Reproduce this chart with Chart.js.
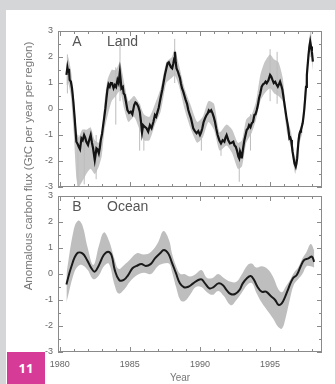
<!DOCTYPE html>
<html>
<head>
<meta charset="utf-8">
<script src="https://cdn.jsdelivr.net/npm/chart.js@4.4.1/dist/chart.umd.min.js"></script>
<style>
  html, body { margin: 0; padding: 0; }
  body { width: 335px; height: 384px; background: #d5d6d8; position: relative; overflow: hidden;
         font-family: 'Liberation Sans', Arial, sans-serif; }
  #sheet { position: absolute; left: 6px; top: 10px; right: 0; bottom: 0; background: #fff; }
  canvas { position: absolute; left: 0; }
  #landChart { top: 0; }
  #oceanChart { top: 185px; }
  #ytitle { position: absolute; left: -102px; top: 159px; width: 260px; line-height: 14px;
            text-align: center; font-size: 11.5px; color: #777; transform: rotate(-90deg); white-space: nowrap; }
  #xtitle { position: absolute; left: 160px; width: 40px; top: 371px; line-height: 14px; text-align: center;
            font-size: 10px; color: #777; }
  #badge { position: absolute; left: 7px; top: 352px; width: 38px; height: 32px; background: #d63b98;
           color: #fff; font: bold 13px 'Open Sans', 'Liberation Sans', sans-serif; text-align: center; line-height: 32px; }
</style>
</head>
<body>
<div id="sheet"></div>
<canvas id="landChart" width="335" height="198"></canvas>
<canvas id="oceanChart" width="335" height="199"></canvas>
<div id="ytitle">Anomalous carbon flux (GtC per year per region)</div>
<div id="xtitle">Year</div>
<div id="badge">11</div>
<script>
// ---------- data ----------
const X_MIN = 1979.88, X_MAX = 1998.7;
const Y_TICKS = [-3, -2, -1, 0, 1, 2, 3];
const YEAR_LABELS = [1980, 1985, 1990, 1995];

// land flux, black line
const landYears = [
  1980.48, 1980.55, 1980.6, 1980.66, 1980.71, 1980.8, 1980.88, 1980.97, 1981.07, 1981.19,
  1981.28, 1981.36, 1981.45, 1981.55, 1981.64, 1981.74, 1981.82, 1981.9, 1982.02, 1982.1,
  1982.21, 1982.3, 1982.38, 1982.5, 1982.56, 1982.62, 1982.7, 1982.79, 1982.86, 1982.93,
  1983.02, 1983.1, 1983.18, 1983.26, 1983.33, 1983.4, 1983.48, 1983.57, 1983.65, 1983.74,
  1983.84, 1983.93, 1984.02, 1984.12, 1984.2, 1984.29, 1984.35, 1984.4, 1984.5, 1984.56,
  1984.64, 1984.72, 1984.83, 1984.95, 1985.07, 1985.18, 1985.31, 1985.4, 1985.48, 1985.6,
  1985.71, 1985.8, 1985.87, 1985.95, 1986.05, 1986.19, 1986.31, 1986.43, 1986.55, 1986.68,
  1986.79, 1986.88, 1986.98, 1987.06, 1987.14, 1987.22, 1987.31, 1987.4, 1987.5, 1987.6,
  1987.69, 1987.78, 1987.86, 1987.94, 1988.02, 1988.1, 1988.17, 1988.22, 1988.27, 1988.33,
  1988.42, 1988.5, 1988.57, 1988.64, 1988.72, 1988.81, 1988.9, 1988.98, 1989.08, 1989.17,
  1989.26, 1989.36, 1989.44, 1989.52, 1989.64, 1989.76, 1989.88, 1990.0, 1990.08, 1990.17,
  1990.26, 1990.36, 1990.45, 1990.55, 1990.63, 1990.71, 1990.8, 1990.9, 1990.98, 1991.07,
  1991.16, 1991.26, 1991.38, 1991.5, 1991.62, 1991.74, 1991.82, 1991.9, 1992.02, 1992.14,
  1992.26, 1992.38, 1992.46, 1992.55, 1992.64, 1992.74, 1992.8, 1992.86, 1992.93, 1992.98,
  1993.08, 1993.17, 1993.25, 1993.33, 1993.42, 1993.5, 1993.6, 1993.69, 1993.78, 1993.88,
  1993.96, 1994.05, 1994.13, 1994.21, 1994.3, 1994.4, 1994.5, 1994.6, 1994.68, 1994.76,
  1994.88, 1995.0, 1995.08, 1995.17, 1995.26, 1995.36, 1995.45, 1995.55, 1995.63, 1995.71,
  1995.8, 1995.88, 1995.97, 1996.07, 1996.16, 1996.26, 1996.33, 1996.38, 1996.44, 1996.5,
  1996.55, 1996.6, 1996.68, 1996.74, 1996.83, 1996.88, 1996.93, 1997.02, 1997.08, 1997.14,
  1997.2, 1997.26, 1997.32, 1997.38, 1997.44, 1997.5, 1997.56, 1997.62, 1997.68, 1997.74,
  1997.8, 1997.86, 1997.92, 1997.98, 1998.05
];
const landFlux = [
  1.31, 1.6, 1.44, 1.55, 1.12, 1.05, 0.79, 0.3, -0.36, -1.26,
  -1.35, -1.45, -1.55, -1.13, -1.2, -1.0, -1.1, -1.26, -1.38, -1.2,
  -1.0, -1.3, -1.51, -1.96, -1.75, -1.51, -1.55, -1.7, -1.5, -1.19,
  -0.95, -0.62, -0.3, 0.03, 0.4, 0.73, 0.95, 0.86, 1.0, 0.99,
  0.8, 0.92, 0.85, 1.12, 1.0, 1.43, 1.1, 0.79, 0.85, 0.6,
  0.54, 0.3, -0.04, -0.15, -0.1, -0.2, 0.15, 0.25, 0.22, 0.1,
  -0.1, -0.5, -0.9, -0.62, -0.68, -0.74, -0.87, -0.62, -0.74, -0.5,
  -0.23, -0.3, -0.1, 0.05, 0.28, 0.5, 0.73, 1.0, 1.31, 1.55,
  1.76, 1.8, 1.69, 1.6, 1.56, 1.75, 1.95, 2.2, 1.8, 1.56,
  1.45, 1.31, 1.2, 0.99, 0.8, 0.67, 0.5, 0.35, 0.2, -0.04,
  -0.2, -0.36, -0.55, -0.74, -0.85, -0.93, -0.85, -1.0, -0.9, -0.74,
  -0.5, -0.36, -0.25, -0.17, -0.05, -0.1, -0.05, -0.17, -0.3, -0.49,
  -0.75, -1.0, -1.2, -1.32, -1.2, -1.26, -1.1, -1.0, -1.2, -1.32,
  -1.3, -1.26, -1.4, -1.45, -1.6, -1.83, -1.9, -1.64, -1.75, -1.9,
  -1.5, -1.19, -1.0, -0.81, -0.75, -0.62, -0.7, -0.55, -0.5, -0.23,
  -0.2, -0.04, 0.15, 0.41, 0.6, 0.86, 0.95, 0.99, 1.05, 0.99,
  1.1, 1.31, 1.25, 1.12, 1.0, 1.05, 0.95, 0.86, 0.95, 1.05,
  0.9, 0.73, 0.4, 0.03, -0.3, -0.62, -0.9, -1.13, -1.1, -1.19,
  -1.4, -1.64, -1.9, -2.09, -2.22, -2.1, -1.9, -1.26, -1.0, -0.87,
  -0.8, -0.68, -0.55, -0.3, 0.0, 0.41, 0.85, 1.31, 1.7, 2.08,
  2.4, 2.59, 2.4, 2.2, 1.82
];

// land uncertainty envelope
const landBandYears = [
  1980.48, 1980.6, 1980.8, 1981.0, 1981.2, 1981.35, 1981.6, 1981.9, 1982.2, 1982.5,
  1982.8, 1983.0, 1983.2, 1983.4, 1983.7, 1984.0, 1984.3, 1984.6, 1984.9, 1985.3,
  1985.7, 1986.0, 1986.4, 1986.8, 1987.2, 1987.6, 1988.0, 1988.2, 1988.5, 1988.9,
  1989.3, 1989.8, 1990.2, 1990.6, 1991.0, 1991.4, 1991.9, 1992.3, 1992.7, 1993.0,
  1993.3, 1993.7, 1994.0, 1994.3, 1994.6, 1995.0, 1995.3, 1995.6, 1995.9, 1996.2,
  1996.5, 1996.8, 1997.0, 1997.3, 1997.6, 1997.85, 1998.05
];
const landBandHigh = [
  1.7, 2.0, 1.5, 0.5, -0.8, -1.1, -0.8, -0.8, -0.7, -1.2,
  -1.3, -0.9, 0.3, 1.1, 1.5, 1.5, 1.8, 1.0, 0.3, 0.5,
  0.2, -0.2, -0.3, 0.2, 0.8, 1.8, 2.0, 2.3, 1.7, 0.8,
  0.2, -0.5, -0.3, 0.3, 0.2, -0.9, -0.6, -0.8, -1.3, -1.2,
  -0.4, -0.2, 0.3, 1.3, 1.8, 2.1, 1.9, 1.8, 1.2, -0.3,
  -0.9, -1.9, -1.0, -0.4, 1.5, 2.9, 2.1
];
const landBandLow = [
  0.9, 1.0, 0.5, -0.9, -2.7, -3.0, -2.8, -2.5, -2.3, -2.5,
  -2.2, -1.8, -0.8, -0.3, 0.3, 0.5, 0.7, 0.0, -0.5, -0.3,
  -0.8, -1.2, -1.2, -0.6, -0.1, 1.0, 1.2, 1.3, 0.9, 0.0,
  -0.7, -1.3, -1.1, -0.5, -0.8, -1.6, -1.4, -1.7, -2.3, -2.2,
  -1.3, -0.9, -0.4, 0.3, 0.6, 0.8, 0.6, 0.5, 0.3, -0.9,
  -1.5, -2.5, -1.5, -0.9, 1.0, 2.3, 1.5
];

// short-lived excursions of the land envelope
const landSpikeYears = [1980.55, 1981.3, 1981.75, 1982.6, 1984.0, 1984.3, 1985.7, 1986.0, 1988.2, 1990.1, 1991.5, 1992.8, 1993.6, 1995.0, 1995.5, 1997.9];
const landSpikeLow   = [0.6, -3.2, -2.9, -2.7, -0.6, 0.3, -1.6, -1.6, 1.0, -1.6, -1.8, -2.8, -1.6, 0.3, 0.2, 2.0];
const landSpikeHigh  = [2.1, -1.0, -0.8, -1.0, 1.6, 2.5, 0.2, -0.3, 2.7, -0.5, -0.9, -1.4, -0.2, 2.3, 2.2, 3.0];

// ocean flux, black line
const oceanYears = [
  1980.48, 1980.83, 1981.24, 1981.62, 1981.95, 1982.26, 1982.5, 1982.81, 1983.14, 1983.45,
  1983.69, 1983.93, 1984.24, 1984.57, 1984.88, 1985.19, 1985.48, 1985.83, 1986.14, 1986.48,
  1986.79, 1987.14, 1987.43, 1987.74, 1987.98, 1988.29, 1988.57, 1988.86, 1989.17, 1989.52,
  1989.88, 1990.12, 1990.36, 1990.67, 1990.95, 1991.31, 1991.62, 1991.9, 1992.19, 1992.5,
  1992.81, 1993.05, 1993.33, 1993.62, 1993.86, 1994.1, 1994.4, 1994.71, 1995.05, 1995.36,
  1995.6, 1995.83, 1996.07, 1996.31, 1996.62, 1996.9, 1997.19, 1997.43, 1997.74, 1997.98,
  1998.14
];
const oceanFlux = [
  -0.4, 0.28, 0.79, 0.79, 0.54, 0.22, 0.09, 0.35, 0.73, 0.86,
  0.73, 0.15, -0.23, -0.23, -0.04, 0.22, 0.31, 0.38, 0.31, 0.38,
  0.6, 0.79, 0.92, 0.79, 0.47, 0.03, -0.36, -0.51, -0.49, -0.36,
  -0.23, -0.21, -0.36, -0.55, -0.51, -0.36, -0.42, -0.62, -0.77, -0.77,
  -0.62, -0.36, -0.17, -0.08, -0.23, -0.49, -0.68, -0.68, -0.85, -1.0,
  -1.19, -1.13, -0.88, -0.55, -0.17, -0.04, 0.31, 0.54, 0.6, 0.67,
  0.47
];

// ocean uncertainty envelope
const oceanBandYears = [
  1980.48, 1981.0, 1981.3, 1981.6, 1982.0, 1982.4, 1982.8, 1983.15, 1983.5, 1983.9,
  1984.2, 1984.6, 1985.0, 1985.5, 1986.0, 1986.5, 1987.0, 1987.4, 1987.8, 1988.0,
  1988.3, 1988.6, 1988.9, 1989.3, 1989.7, 1990.1, 1990.5, 1990.9, 1991.3, 1991.7,
  1992.2, 1992.6, 1993.0, 1993.4, 1993.7, 1994.0, 1994.4, 1994.8, 1995.2, 1995.6,
  1995.85, 1996.1, 1996.4, 1996.7, 1997.0, 1997.3, 1997.6, 1997.9, 1998.15
];
const oceanBandHigh = [
  0.0, 1.7, 2.05, 1.9, 1.0, 0.35, 1.1, 1.6, 1.3, 0.6,
  0.2, 0.35, 0.55, 0.8, 0.75, 0.85, 1.2, 1.65, 1.3, 0.8,
  0.3, 0.0, 0.0, -0.1, 0.0, 0.15, -0.15, -0.15, 0.0, -0.15,
  -0.3, -0.3, 0.0, 0.35, 0.4, 0.25, 0.3, 0.2, -0.1, -0.6,
  -0.7, -0.5, -0.25, 0.05, 0.25, 0.6, 0.85, 1.15, 0.9
];
const oceanBandLow = [
  -1.1, 0.0, 0.3, 0.35, 0.15, -0.2, -0.05, 0.3, 0.4, -0.4,
  -0.75, -0.6, -0.3, -0.05, 0.05, 0.0, 0.3, 0.4, 0.4, 0.1,
  -0.5, -1.0, -1.05, -0.8, -0.5, -0.5, -0.7, -0.8, -0.65, -0.85,
  -1.2, -1.0, -0.7, -0.4, -0.35, -0.7, -1.1, -1.4, -1.7, -2.05,
  -2.1, -1.7, -1.0, -0.4, -0.2, 0.0, 0.3, 0.3, 0.25
];

// ---------- helpers ----------
const pts = (xs, ys) => xs.map((x, i) => ({ x, y: ys[i] }));

function spikePoints(xs, lo, hi) {
  const out = [];
  xs.forEach((x, i) => {
    out.push({ x, y: lo[i] }, { x, y: hi[i] }, { x, y: null });
  });
  return out;
}

const TICK_FONT = { family: "'Liberation Sans', Arial, sans-serif", size: 9 };

// box around the plot, ticks pointing inward on all four sides, panel caption
const framePlugin = {
  id: 'frame',
  afterDatasetsDraw(chart, args, opts) {
    const { ctx, chartArea: a, scales: { x, y } } = chart;
    ctx.save();
    ctx.strokeStyle = '#8a8a8a';
    ctx.lineWidth = 1;
    ctx.strokeRect(a.left + 0.5, a.top + 0.5, a.right - a.left - 1, a.bottom - a.top - 1);
    ctx.beginPath();
    for (let yr = 1980; yr <= 1998; yr++) {
      const px = Math.round(x.getPixelForValue(yr)) + 0.5;
      const len = yr % 5 === 0 ? 5 : 3;
      ctx.moveTo(px, a.bottom); ctx.lineTo(px, a.bottom - len);
      ctx.moveTo(px, a.top); ctx.lineTo(px, a.top + len);
    }
    for (let v = -3; v <= 3; v += 0.5) {
      const py = Math.round(y.getPixelForValue(v)) + 0.5;
      const len = Number.isInteger(v) ? 5 : 3;
      ctx.moveTo(a.left, py); ctx.lineTo(a.left + len, py);
      ctx.moveTo(a.right, py); ctx.lineTo(a.right - len, py);
    }
    ctx.stroke();

    ctx.fillStyle = '#555';
    ctx.font = "14px 'Liberation Sans', Arial, sans-serif";
    ctx.textBaseline = 'middle';
    ctx.textAlign = 'center';
    ctx.fillText(opts.letter, a.left + 19, a.top + 11);
    ctx.textAlign = 'left';
    ctx.fillText(opts.name, a.left + 49, a.top + 11);
    ctx.restore();
  }
};

// chart area is 58..322 wide; top panel 31..187, bottom panel 196..352 on the page
function panelOptions(letter, name, showYears) {
  return {
    responsive: false,
    animation: false,
    layout: { padding: showYears ? { top: 11, right: 13, left: 0, bottom: 0 } : { top: 31, right: 13, left: 0, bottom: 11 } },
    plugins: {
      legend: { display: false },
      tooltip: { enabled: false },
      frame: { letter, name }
    },
    scales: {
      x: {
        type: 'linear',
        min: X_MIN, max: X_MAX,
        offset: false,
        display: showYears,
        grid: { display: false, drawTicks: false, offset: false },
        border: { display: false },
        afterBuildTicks: s => { s.ticks = YEAR_LABELS.map(v => ({ value: v })); },
        afterFit: s => { if (showYears) s.height = 32; },
        ticks: { color: '#666', font: TICK_FONT, padding: 7, maxRotation: 0, autoSkip: false,
                 callback: v => String(v) }
      },
      y: {
        type: 'linear',
        min: -3, max: 3,
        grid: { display: false, drawTicks: false },
        border: { display: false },
        afterBuildTicks: s => { s.ticks = Y_TICKS.map(v => ({ value: v })); },
        afterFit: s => { s.width = 58; },
        ticks: { color: '#666', font: TICK_FONT, padding: 5 }
      }
    }
  };
}

// ---------- panel A: land ----------
new Chart(document.getElementById('landChart'), {
  type: 'line',
  data: {
    datasets: [
      { data: pts(landYears, landFlux), borderColor: '#141414', borderWidth: 2.2, pointRadius: 0, tension: 0, order: 0, fill: false },
      { data: spikePoints(landSpikeYears, landSpikeLow, landSpikeHigh), borderColor: '#bdbdbd', borderWidth: 1, pointRadius: 0, spanGaps: false, order: 1, fill: false },
      { data: pts(landBandYears, landBandHigh), borderWidth: 0, pointRadius: 0, tension: 0.2, backgroundColor: '#c6c6c6', fill: '+1', order: 2 },
      { data: pts(landBandYears, landBandLow), borderWidth: 0, pointRadius: 0, tension: 0.2, fill: false, order: 3 }
    ]
  },
  options: panelOptions('A', 'Land', false),
  plugins: [framePlugin]
});

// ---------- panel B: ocean ----------
new Chart(document.getElementById('oceanChart'), {
  type: 'line',
  data: {
    datasets: [
      { data: pts(oceanYears, oceanFlux), borderColor: '#1a1a1a', borderWidth: 2, pointRadius: 0, tension: 0.4, order: 0, fill: false },
      { data: pts(oceanBandYears, oceanBandHigh), borderWidth: 0, pointRadius: 0, tension: 0.4, backgroundColor: '#bebebe', fill: '+1', order: 1 },
      { data: pts(oceanBandYears, oceanBandLow), borderWidth: 0, pointRadius: 0, tension: 0.4, fill: false, order: 2 }
    ]
  },
  options: panelOptions('B', 'Ocean', true),
  plugins: [framePlugin]
});
</script>
</body>
</html>
